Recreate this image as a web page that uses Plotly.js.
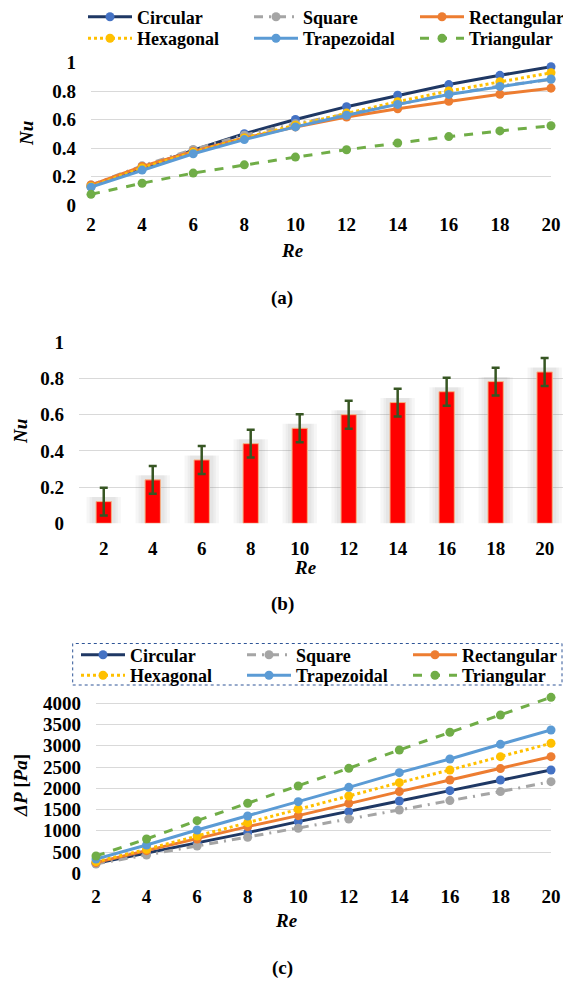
<!DOCTYPE html>
<html>
<head>
<meta charset="utf-8">
<script src="https://cdn.plot.ly/plotly-3.0.1.min.js"></script>
<style>html,body{margin:0;padding:0;background:#fff;overflow:hidden}#chart{width:563px;height:983px}</style>
</head>
<body>
<div id="chart"></div>
<script>
// ---------- data ----------
const re = [2, 4, 6, 8, 10, 12, 14, 16, 18, 20];
const seriesNames = ["Circular", "Square", "Rectangular", "Hexagonal", "Trapezoidal", "Triangular"];

// (a) Nu vs Re
const nuCircular    = [0.13, 0.26, 0.385, 0.50, 0.60, 0.69, 0.77, 0.845, 0.91, 0.97];
const nuSquare      = [0.14, 0.275, 0.39, 0.49, 0.57, 0.64, 0.71, 0.775, 0.835, 0.88];
const nuRectangular = [0.14, 0.27, 0.375, 0.47, 0.548, 0.617, 0.675, 0.728, 0.777, 0.82];
const nuHexagonal   = [0.13, 0.26, 0.37, 0.47, 0.56, 0.645, 0.725, 0.80, 0.865, 0.928];
const nuTrapezoidal = [0.125, 0.245, 0.36, 0.459, 0.548, 0.63, 0.706, 0.776, 0.832, 0.884];
const nuTriangular  = [0.075, 0.153, 0.224, 0.282, 0.336, 0.388, 0.435, 0.48, 0.52, 0.556];

// (b) mean Nu with error
const nuMean  = [0.12, 0.24, 0.35, 0.44, 0.525, 0.60, 0.667, 0.727, 0.783, 0.836];
const nuError = [0.077, 0.077, 0.077, 0.077, 0.077, 0.077, 0.077, 0.077, 0.077, 0.077];

// (c) pressure drop vs Re
const dpCircular    = [235, 471, 706, 957, 1216, 1451, 1702, 1945, 2196, 2431];
const dpSquare      = [220, 431, 643, 847, 1059, 1278, 1490, 1710, 1922, 2157];
const dpRectangular = [251, 533, 808, 1098, 1357, 1647, 1922, 2196, 2463, 2745];
const dpHexagonal   = [275, 565, 878, 1192, 1514, 1820, 2133, 2431, 2745, 3059];
const dpTrapezoidal = [335, 667, 1020, 1349, 1686, 2023, 2368, 2690, 3035, 3372];
const dpTriangular  = [408, 808, 1239, 1647, 2055, 2470, 2902, 3318, 3725, 4141];

const nuTickVals = [0, 0.2, 0.4, 0.6, 0.8, 1];
const nuTickText = ["0", "0.2", "0.4", "0.6", "0.8", "1"];
const dpTickVals = [0, 500, 1000, 1500, 2000, 2500, 3000, 3500, 4000];

// ---------- styles ----------
const W = 563, H = 983;
const px = v => v / W;
const py = v => 1 - v / H;
const FAM = "Liberation Serif";
const styles = [
  {line: "#1F3864", marker: "#4472C4", dash: "solid"},
  {line: "#A5A5A5", marker: "#A5A5A5", dash: "9px,6px,2px,6px"},
  {line: "#ED7D31", marker: "#ED7D31", dash: "solid"},
  {line: "#FFC000", marker: "#FFC000", dash: "dot"},
  {line: "#5B9BD5", marker: "#5B9BD5", dash: "solid"},
  {line: "#70AD47", marker: "#70AD47", dash: "dash"}
];

function lineTraces(ys, xa, ya, legRow1, legRow2) {
  return ys.map((y, i) => ({
    type: "scatter", mode: "lines+markers",
    x: re, y: y, name: seriesNames[i],
    xaxis: xa, yaxis: ya, legend: i < 3 ? legRow1 : legRow2,
    cliponaxis: false,
    line: {color: styles[i].line, width: 3, dash: styles[i].dash},
    marker: {color: styles[i].marker, size: 9}
  }));
}

const tracesA = lineTraces([nuCircular, nuSquare, nuRectangular, nuHexagonal, nuTrapezoidal, nuTriangular], "x", "y", "legend", "legend3");
const tracesC = lineTraces([dpCircular, dpSquare, dpRectangular, dpHexagonal, dpTrapezoidal, dpTriangular], "x3", "y3", "legend2", "legend4");

// glow behind bars (b)
const glow = [1.4, 1.15, 0.95].map(w => ({
  type: "bar", x: re, y: nuMean.map(v => v + 0.04), base: -0.015,
  width: w, xaxis: "x2", yaxis: "y2", showlegend: false, hoverinfo: "skip",
  marker: {color: "rgba(120,120,120,0.065)", line: {width: 0}}
}));
const bars = {
  type: "bar", x: re, y: nuMean, width: 0.625, xaxis: "x2", yaxis: "y2",
  showlegend: false, name: "Nu",
  marker: {color: "#FF0000", line: {color: "#F4B183", width: 1}},
  error_y: {type: "data", array: nuError, visible: true, color: "#375623", thickness: 2.5, width: 4}
};

const tickFont = {family: FAM, size: 19, color: "#000", weight: "bold"};
const gridC = "#D9D9D9";
function xAx(domain, range, anchor, standoff) {
  return {domain: domain, range: range, anchor: anchor, tickvals: re, ticktext: re.map(String),
    showgrid: false, zeroline: false, showline: false, ticks: "", tickfont: tickFont,
    ticklabelstandoff: standoff, fixedrange: true, automargin: false};
}
function yAx(domain, range, anchor, tv, tt, standoff) {
  return {domain: domain, range: range, anchor: anchor, tickvals: tv, ticktext: tt,
    showgrid: true, gridcolor: gridC, gridwidth: 1, zeroline: false, showline: false, ticks: "",
    tickfont: tickFont, ticklabelstandoff: standoff, fixedrange: true, automargin: false};
}

const annFont = {family: FAM, size: 19, color: "#000", weight: "bold"};
function ann(text, x, y, angle) {
  return {text: text, xref: "paper", yref: "paper", x: px(x), y: py(y), xanchor: "center", yanchor: "middle",
    showarrow: false, textangle: angle || 0, font: annFont};
}

const legFont = {family: FAM, size: 18, color: "#000", weight: "bold"};
function legendRow(xLeft, yCenter) {
  return {orientation: "h", x: px(xLeft), xanchor: "left", y: py(yCenter), yanchor: "middle",
    bgcolor: "rgba(0,0,0,0)", borderwidth: 0, font: legFont, itemwidth: 44,
    entrywidth: 107, entrywidthmode: "pixels", traceorder: "normal"};
}

// panel (c) geometry: 0 at 873.3 px, 4000 at 703.3 px; range a bit above 4000 so the last point stays visible
const c0 = 873.3, c4000 = 703.3, cTopVal = 4200;
const cTopPx = c0 - (c0 - c4000) * cTopVal / 4000;

const layout = {
  width: W, height: H, margin: {l: 0, r: 0, t: 0, b: 0, pad: 0, autoexpand: false},
  paper_bgcolor: "#fff", plot_bgcolor: "rgba(0,0,0,0)",
  font: {family: FAM},
  barmode: "overlay", showlegend: true,
  xaxis:  xAx([px(91), px(551)], [2, 20], "y", 6),
  yaxis:  yAx([py(205), py(62.5)], [0, 1], "x", nuTickVals, nuTickText, 14),
  xaxis2: xAx([px(79), 1], [0.99, 20.75], "y2", 12),
  yaxis2: yAx([py(523.3), py(342.3)], [0, 1], "x2", nuTickVals, nuTickText, 14),
  xaxis3: xAx([px(96), px(551)], [2, 20], "y3", 10),
  yaxis3: yAx([py(c0), py(cTopPx)], [0, cTopVal], "x3", dpTickVals, dpTickVals.map(String), 14),
  legend:  legendRow(83, 17),
  legend3: legendRow(83, 38.5),
  legend2: legendRow(76, 655),
  legend4: legendRow(76, 675.5),
  shapes: [
    {type: "rect", xref: "paper", yref: "paper", x0: px(72.7), x1: px(562), y0: py(685), y1: py(643.5),
     line: {color: "#2F5597", width: 1, dash: "dot"}, fillcolor: "rgba(0,0,0,0)"}
  ],
  annotations: [
    ann("<i>Nu</i>", 26, 134, -90),
    ann("<i>Re</i>", 292, 251),
    ann("(a)", 282, 298),
    ann("<i>Nu</i>", 21, 432, -90),
    ann("<i>Re</i>", 305, 567),
    ann("(b)", 282, 604),
    ann("<i>ΔP</i> [<i>Pa</i>]", 20, 786, -90),
    ann("<i>Re</i>", 286, 920),
    ann("(c)", 282, 968)
  ]
};

Plotly.newPlot("chart", [...tracesA, ...glow, bars, ...tracesC], layout, {displayModeBar: false, staticPlot: true});
</script>
</body>
</html>
